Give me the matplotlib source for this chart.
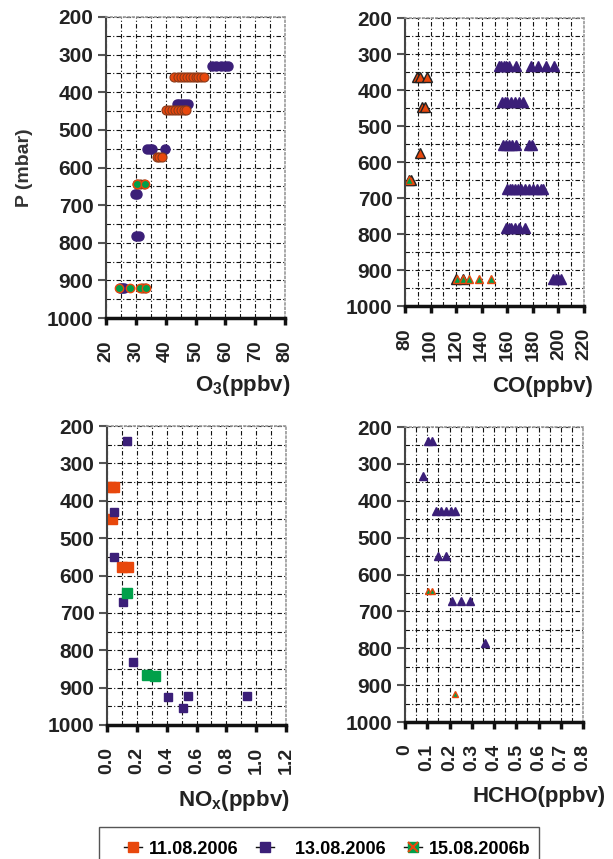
import matplotlib
matplotlib.use('Agg')
import matplotlib.pyplot as plt
import numpy as np
from matplotlib.lines import Line2D
from matplotlib.patches import Rectangle
from matplotlib.ticker import MultipleLocator

plt.rcParams['font.family'] = ['Liberation Sans', 'DejaVu Sans']
plt.rcParams['font.weight'] = 'bold'
plt.rcParams['mathtext.default'] = 'regular'

orange = '#e8470c'
purple = '#3b1f78'
green = '#00a04a'

# O3 panel (circles)
o3_1108_x = [42.8, 44, 45, 46, 47, 48, 49, 50, 51, 52, 53,
             40.2, 41, 42, 43, 44, 45, 46, 46.8,
             37, 37.8, 38.7, 30.3, 31.5, 32.8, 32, 33]
o3_1108_p = [360] * 11 + [446] * 8 + [572] * 3 + [644] * 3 + [921] * 2
o3_1308_x = [55.6, 57, 58.5, 60, 60.8,
             43.7, 44.5, 45.5, 46.5, 47.4,
             33.8, 34.6, 35.4, 39.8,
             29.6, 30.4, 30.2, 31,
             24.6, 25.3, 26.1]
o3_1308_p = [331] * 5 + [430] * 5 + [550] * 4 + [671] * 2 + [783] * 2 + [921] * 3
o3_1508_x = [30.5, 33, 24.5, 28.2, 31.4, 33.3]
o3_1508_p = [644, 644, 921, 921, 921, 921]

# CO panel (triangles)
co_1108_x = [89, 92, 97, 93, 96, 91.5, 83, 84.5, 120, 125]
co_1108_p = [364, 364, 364, 447, 447, 575, 650, 650, 926, 926]
co_1308_x = [153.4, 155, 157.3, 159, 161.2, 167.2, 178.5, 184.2, 190, 196.5,
             156, 158, 160, 163, 166, 169, 172,
             157, 159, 161, 164, 167, 177, 179.5,
             160, 162, 164, 166, 168, 171, 174, 177, 180, 183, 186, 188,
             159, 161, 163, 166, 169, 174,
             196, 198, 200, 202]
co_1308_p = [332] * 10 + [432] * 7 + [552] * 7 + [675] * 12 + [784] * 6 + [926] * 4
co_1508_x = [83.5, 121, 125.4, 130, 138, 147.6]
co_1508_p = [650, 926, 926, 926, 926, 926]

# NOx panel (squares)
nox_1108_x = [0.03, 0.045, 0.033, 0.10, 0.14]
nox_1108_p = [364, 364, 450, 576, 576]
nox_1308_x = [0.136, 0.045, 0.045, 0.107, 0.172, 0.41, 0.54, 0.51, 0.937]
nox_1308_p = [240, 430, 550, 671, 831, 924, 922, 955, 922]
nox_1508_x = [0.132, 0.266, 0.32]
nox_1508_p = [646, 866, 868]

# HCHO panel (triangles)
hcho_1308_x = [0.103, 0.121, 0.081, 0.138, 0.16, 0.186, 0.208, 0.226,
               0.148, 0.186, 0.213, 0.253, 0.29, 0.361]
hcho_1308_p = [239, 239, 332, 429, 429, 429, 429, 429, 551, 551, 673, 673, 673, 786]
hcho_1508_x = [0.103, 0.12, 0.226]
hcho_1508_p = [646, 646, 923]

fig = plt.figure(figsize=(6.13, 8.59), dpi=100)
W, H = 613, 859


def make_ax(l, r, t, b):
    return fig.add_axes([l / W, 1 - b / H, (r - l) / W, (b - t) / H])


def style(ax, xmin, xmax, major, minor, xticklabels=None):
    ax.set_xlim(xmin, xmax)
    ax.set_ylim(1000, 200)
    ax.xaxis.set_major_locator(MultipleLocator(major))
    ax.xaxis.set_minor_locator(MultipleLocator(minor))
    ax.yaxis.set_major_locator(MultipleLocator(100))
    ax.yaxis.set_minor_locator(MultipleLocator(50))
    ax.grid(True, which='both', color='#111111', lw=0.8, linestyle=(0, (4, 2, 1, 2)))
    ax.set_axisbelow(True)
    for s in ['top', 'right']:
        ax.spines[s].set_color('#999999')
        ax.spines[s].set_linestyle(':')
        ax.spines[s].set_linewidth(1.2)
    ax.spines['left'].set_color('#444444')
    ax.spines['left'].set_linewidth(1.5)
    ax.spines['bottom'].set_color('#111111')
    ax.spines['bottom'].set_linewidth(2.5)
    ax.tick_params(axis='y', which='major', direction='out', length=6, width=1.5,
                   color='#555555', labelsize=15, labelcolor='#222222', pad=3)
    ax.tick_params(axis='x', which='major', direction='out', length=5, width=2.5,
                   color='#111111', labelsize=14, labelcolor='#222222', pad=11,
                   labelrotation=90)
    ax.tick_params(which='minor', length=0)
    if xticklabels is not None:
        ax.set_xticks(np.arange(xmin, xmax + major / 2, major))
        ax.set_xticklabels(xticklabels)
    for lab in ax.get_xticklabels() + ax.get_yticklabels():
        lab.set_fontweight('bold')
    for lab in ax.get_xticklabels():
        lab.set_va('top')


ax1 = make_ax(106, 285, 17, 318)
ax2 = make_ax(405, 584, 18, 306)
ax3 = make_ax(107, 286, 426, 725)
ax4 = make_ax(405, 583, 427, 722)

# O3
ax1.plot(o3_1308_x, o3_1308_p, 'o', ms=6.5, mfc=purple, mec=purple, ls='none')
ax1.plot(o3_1108_x, o3_1108_p, 'o', ms=6.5, mfc=orange, mec='#8a3a1a', mew=0.8, ls='none')
ax1.plot(o3_1508_x, o3_1508_p, 'o', ms=6, mfc=green, mec=orange, mew=1.0, ls='none')
style(ax1, 20, 80, 10, 5)
ax1.set_ylabel('P (mbar)', fontsize=14, fontweight='bold', color='#333333', labelpad=10)

# CO
ax2.plot(co_1308_x, co_1308_p, '^', ms=6.5, mfc=purple, mec=purple, ls='none')
ax2.plot(co_1108_x, co_1108_p, '^', ms=6.5, mfc=orange, mec='#222222', mew=1.0, ls='none')
ax2.plot(co_1508_x, co_1508_p, '^', ms=6, mfc=green, mec=orange, mew=1.0, ls='none')
style(ax2, 80, 220, 20, 10)

# NOx
ax3.plot(nox_1108_x, nox_1108_p, 's', ms=7.5, mfc=orange, mec=orange, ls='none')
ax3.plot(nox_1308_x, nox_1308_p, 's', ms=5.5, mfc=purple, mec=purple, ls='none')
ax3.plot(nox_1508_x, nox_1508_p, 's', ms=7.5, mfc=green, mec=green, ls='none')
style(ax3, 0, 1.2, 0.2, 0.1)

# HCHO
ax4.plot(hcho_1308_x, hcho_1308_p, '^', ms=5.5, mfc=purple, mec=purple, ls='none')
ax4.plot(hcho_1508_x, hcho_1508_p, '^', ms=5, mfc=green, mec=orange, mew=1.0, ls='none')
hcho_ticklabels = ['0', '0.1', '0.2', '0.3', '0.4', '0.5', '0.6', '0.7', '0.8']
style(ax4, 0, 0.8, 0.1, 0.05, hcho_ticklabels)

# axis titles at lower right
lab_kw = dict(ha='right', va='center', fontsize=16, fontweight='bold', color='#222222')
ax1.text(1.03, -0.223, 'O$_3$(ppbv)', transform=ax1.transAxes, **lab_kw)
ax2.text(1.05, -0.281, 'CO(ppbv)', transform=ax2.transAxes, **lab_kw)
ax3.text(1.022, -0.251, 'NO$_x$(ppbv)', transform=ax3.transAxes, **lab_kw)
ax4.text(1.129, -0.254, 'HCHO(ppbv)', transform=ax4.transAxes, **lab_kw)

# legend
fig.patches.append(Rectangle((99 / W, -0.01), 440 / W, (H - 827) / H + 0.01,
                             transform=fig.transFigure, fill=False,
                             edgecolor='#555555', lw=1.0))
h1 = Line2D([], [], color='#111111', lw=1, marker='s', ms=7, mfc=orange, mec=orange)
h2 = Line2D([], [], color='#111111', lw=1, marker='s', ms=7, mfc=purple, mec=purple)
h3a = Line2D([], [], color='#111111', lw=1, marker='s', ms=7, mfc=green, mec=green)
h3b = Line2D([], [], ls='none', marker='x', ms=7, mew=1.5, color=orange)
fig.legend([h1, h2, (h3a, h3b)], ['11.08.2006', '   13.08.2006', '15.08.2006b'],
           loc='center left', bbox_to_anchor=(115 / W, 1 - 849 / H), ncol=3,
           frameon=False, borderpad=0, handlelength=1.0, handletextpad=0.35,
           columnspacing=1.0, prop={'size': 13, 'weight': 'bold'})

fig.savefig('out.png', dpi=100)
